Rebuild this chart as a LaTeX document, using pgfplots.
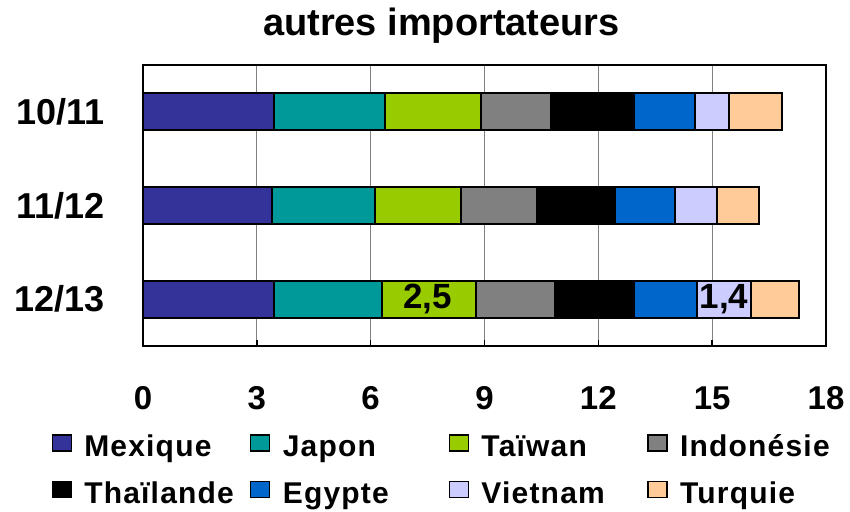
\documentclass[border=0pt]{standalone}
\usepackage{pgfplots}
\pgfplotsset{compat=1.18}
\usepackage{fontspec}
\setmainfont{Liberation Sans}

\definecolor{cMex}{HTML}{333399}
\definecolor{cJap}{HTML}{009999}
\definecolor{cTai}{HTML}{99CC00}
\definecolor{cIdn}{HTML}{808080}
\definecolor{cTha}{HTML}{000000}
\definecolor{cEgy}{HTML}{0066CC}
\definecolor{cVie}{HTML}{CCCCFF}
\definecolor{cTur}{HTML}{FFCC99}

\newcommand{\legtxt}[1]{\makebox[166bp][l]{\strut #1}}
\newcommand{\barlabel}{\fontsize{35bp}{36bp}\selectfont\bfseries}

\begin{document}
\begin{tikzpicture}
\path[use as bounding box] (0,0) rectangle (850bp,512bp);
\begin{axis}[
    at={(143bp,166bp)}, anchor=south west,
    width=683bp, height=281bp, scale only axis,
    xbar stacked, bar width=37bp,
    xmin=0, xmax=18, ymin=-0.5, ymax=2.5,
    xtick={0,3,...,18},
    ytick={0,1,2}, yticklabels={12/13,11/12,10/11},
    /pgf/number format/assume math mode=true,
    axis line style={black, line width=1.5bp},
    xmajorgrids, grid style={gray, line width=0.8bp},
    xtick pos=bottom, tick align=inside, major tick length=6bp,
    xtick style={black, line width=1.5bp},
    ytick style={draw=none},
    xticklabel style={font=\fontsize{33bp}{36bp}\selectfont\bfseries, yshift=-37bp},
    yticklabel style={font=\fontsize{36bp}{38bp}\selectfont\bfseries, xshift=-35bp},
    title={autres importateurs},
    title style={font=\fontsize{38bp}{40bp}\selectfont\bfseries,
        at={(0.5,1)}, anchor=center, xshift=-43bp, yshift=33bp},
    legend columns=4,
    legend image code/.code={
        \draw[#1, draw=black, line width=1.2bp] (0bp,-6bp) rectangle (19bp,10bp);
        \path (31bp,-6bp);
    },
    legend style={at={(axis description cs:-0.134,-0.304)}, anchor=north west,
        draw=none, fill=none, inner sep=0pt, nodes={inner sep=0pt},
        row sep=20bp,
        font=\fontsize{30bp}{36bp}\selectfont\bfseries\addfontfeature{LetterSpace=4}},
    legend cell align=left,
]
\addplot[fill=cMex, draw=black, line width=2bp] coordinates {(3.45,2) (3.39,1) (3.45,0)};
\addplot[fill=cJap, draw=black, line width=2bp] coordinates {(2.93,2) (2.72,1) (2.85,0)};
\addplot[fill=cTai, draw=black, line width=2bp] coordinates {(2.52,2) (2.28,1) (2.47,0)};
\addplot[fill=cIdn, draw=black, line width=2bp] coordinates {(1.86,2) (1.99,1) (2.10,0)};
\addplot[fill=cTha, draw=black, line width=2bp] coordinates {(2.19,2) (2.05,1) (2.08,0)};
\addplot[fill=cEgy, draw=black, line width=2bp] coordinates {(1.60,2) (1.59,1) (1.66,0)};
\addplot[fill=cVie, draw=black, line width=2bp] coordinates {(0.90,2) (1.11,1) (1.42,0)};
\addplot[fill=cTur, draw=black, line width=2bp] coordinates {(1.38,2) (1.10,1) (1.26,0)};
\legend{\legtxt{Mexique},\legtxt{Japon},\legtxt{Taïwan},\legtxt{Indonésie},
        \legtxt{Thaïlande},\legtxt{Egypte},\legtxt{Vietnam},\legtxt{Turquie}}
\coordinate (lblTai) at (axis cs:7.50,0);
\coordinate (lblVie) at (axis cs:15.31,0);
\end{axis}
\node[font=\barlabel] at (lblTai) {2,5};
\node[font=\barlabel] at (lblVie) {1,4};
\end{tikzpicture}
\end{document}
